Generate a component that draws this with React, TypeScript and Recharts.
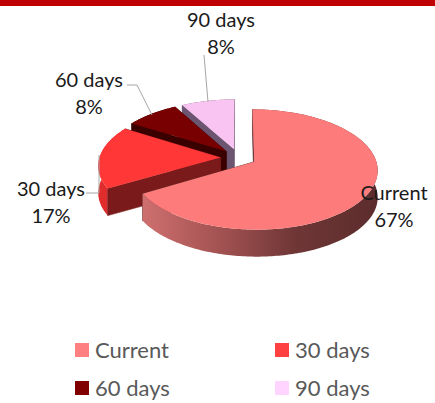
import React from 'react';
import { PieChart, Pie, Legend } from 'recharts';

const CATEGORIES = ['Current', '30 days', '60 days', '90 days'];
const VALUES = [66.6, 17.2, 8.1, 8.1];
const LEGEND_COLORS = ['#ff8080', '#ff4040', '#800000', '#ffd5ff'];

// drawn back to front, so the slices go counter-clockwise from 12 o'clock
const tableData = CATEGORIES.map((name, i) => ({
  name,
  value: VALUES[i],
  fill: LEGEND_COLORS[i],
})).reverse();

const CX = 238.5;
const CY = 157.5;
const RADIUS = 121;
const EXPLODE = 18;
const DEPTH = 27;
const TILT = 0.48;
const PERSPECTIVE = 0.126;
const FONT = 'Lato, sans-serif';

const SLICE_STYLES: Record<string, { top: string; outer: string; radial: string; radialFirst?: boolean }> = {
  Current: { top: '#fd7b7b', outer: 'url(#currentWall)', radial: '#5f2f2f', radialFirst: true },
  '30 days': { top: '#ff3737', outer: '#e02c2c', radial: '#7a1a1a' },
  '60 days': { top: '#780000', outer: '#3a0000', radial: '#3a0000' },
  '90 days': { top: '#f9c4f2', outer: '#6b5570', radial: '#6b5570' },
};

const LABEL_STYLES: Record<string, { x: number; y: number; line: number[][] }> = {
  Current: { x: 394, y: 192, line: [] },
  '30 days': { x: 51, y: 188, line: [[86, 193], [99, 193], [99, 155]] },
  '60 days': { x: 89, y: 79, line: [[127, 85], [137, 85], [152, 115]] },
  '90 days': { x: 221, y: 19, line: [[204, 55], [208, 102]] },
};

const LEGEND_SLOTS = [
  { x: 75, y: 339 },
  { x: 275, y: 339 },
  { x: 75, y: 377 },
  { x: 275, y: 377 },
];

// plane coordinates (y towards the viewer) to screen
const project = (x: number, y: number, z = 0) => {
  const s = 1 / (1 - (PERSPECTIVE * y) / RADIUS);
  return [CX + x * s, CY + TILT * y * s + z];
};

const toPath = (pts: number[][]) =>
  'M' + pts.map((p) => `${p[0].toFixed(2)},${p[1].toFixed(2)}`).join('L') + 'Z';

const Slice3D = (props: any) => {
  const { startAngle, endAngle, name } = props;
  const style = SLICE_STYLES[name];
  const rad = Math.PI / 180;
  const mid = ((startAngle + endAngle) / 2) * rad;
  const ox = EXPLODE * Math.cos(mid);
  const oy = -EXPLODE * Math.sin(mid);

  const arcTop: number[][] = [];
  const arcBottom: number[][] = [];
  const steps = Math.ceil(Math.abs(endAngle - startAngle));
  for (let i = 0; i <= steps; i++) {
    const a = (startAngle + ((endAngle - startAngle) * i) / steps) * rad;
    const x = ox + RADIUS * Math.cos(a);
    const y = oy - RADIUS * Math.sin(a);
    arcTop.push(project(x, y));
    arcBottom.push(project(x, y, DEPTH));
  }
  const apexTop = project(ox, oy);
  const apexBottom = project(ox, oy, DEPTH);
  const last = arcTop.length - 1;

  const radialWalls = (
    <>
      <path d={toPath([apexTop, arcTop[0], arcBottom[0], apexBottom])} fill={style.radial} stroke={style.radial} strokeWidth={0.6} />
      <path d={toPath([apexTop, arcTop[last], arcBottom[last], apexBottom])} fill={style.radial} stroke={style.radial} strokeWidth={0.6} />
    </>
  );

  return (
    <g>
      {style.radialFirst && radialWalls}
      <path d={toPath([...arcTop, ...[...arcBottom].reverse()])} fill={style.outer} />
      {!style.radialFirst && radialWalls}
      <path d={toPath([apexTop, ...arcTop])} fill={style.top} />
    </g>
  );
};

const renderLabel = (props: any) => {
  const { name, percent } = props;
  const spot = LABEL_STYLES[name];
  return (
    <g key={name}>
      {spot.line.length > 0 && (
        <polyline
          points={spot.line.map((p) => p.join(',')).join(' ')}
          fill="none"
          stroke="#a6a6a6"
          strokeWidth={1}
        />
      )}
      <text x={spot.x} y={spot.y} textAnchor="middle" dominantBaseline="central" fontFamily={FONT} fontSize={20} fill="#1a1a1a">
        {name}
      </text>
      <text x={spot.x} y={spot.y + 27} textAnchor="middle" dominantBaseline="central" fontFamily={FONT} fontSize={20} fill="#1a1a1a">
        {Math.round(percent * 100)}%
      </text>
    </g>
  );
};

const renderLegend = () => (
  <div style={{ position: 'relative', width: 435, height: 403 }}>
    {CATEGORIES.map((name, i) => (
      <div
        key={name}
        style={{
          position: 'absolute',
          left: LEGEND_SLOTS[i].x,
          top: LEGEND_SLOTS[i].y,
          display: 'flex',
          alignItems: 'center',
          height: 22,
          fontFamily: FONT,
          fontSize: 22,
          color: '#595959',
          whiteSpace: 'nowrap',
        }}
      >
        <span style={{ width: 14, height: 14, background: LEGEND_COLORS[i], marginRight: 6 }} />
        <span style={{ position: 'relative', top: -1 }}>{name}</span>
      </div>
    ))}
  </div>
);

export default function App() {
  return (
    <div style={{ position: 'absolute', left: 0, top: 0, width: 435, height: 403, background: '#fff', overflow: 'hidden' }}>
      <div style={{ position: 'absolute', left: 0, top: 0, width: 435, height: 6, background: '#c00000' }} />
      <PieChart width={435} height={403} margin={{ top: 0, right: 0, bottom: 0, left: 0 }}>
        <defs>
          <linearGradient id="currentWall" x1="0" y1="0" x2="1" y2="0">
            <stop offset="0%" stopColor="#cf6f6f" />
            <stop offset="35%" stopColor="#a05050" />
            <stop offset="65%" stopColor="#6f3636" />
            <stop offset="100%" stopColor="#5c2c2c" />
          </linearGradient>
        </defs>
        <Pie
          data={tableData}
          dataKey="value"
          nameKey="name"
          cx={CX}
          cy={CY}
          outerRadius={RADIUS}
          startAngle={90}
          endAngle={450}
          stroke="none"
          shape={Slice3D}
          label={renderLabel}
          labelLine={false}
          isAnimationActive={false}
        />
        <Legend content={renderLegend} wrapperStyle={{ left: 0, top: 0, width: 435, height: 403, pointerEvents: 'none' }} />
      </PieChart>
    </div>
  );
}
